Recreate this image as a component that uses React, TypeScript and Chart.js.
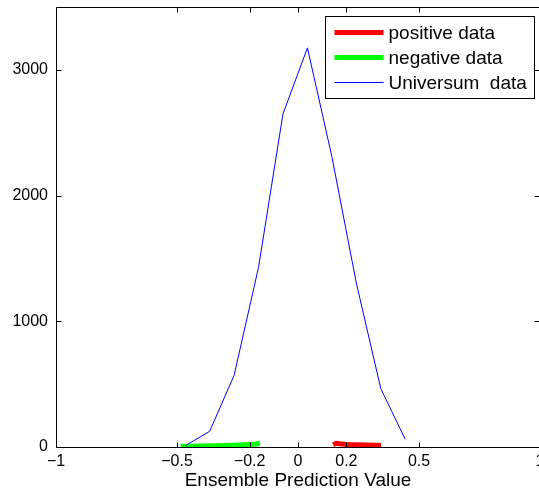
import { useEffect, useRef } from 'react';
import { Chart, registerables } from 'chart.js';

Chart.register(...registerables);

// Universum data (histogram polyline)
const universumX = [-0.466, -0.365, -0.264, -0.163, -0.062, 0.039, 0.14, 0.241, 0.342, 0.443];
const universumY = [10, 125, 570, 1430, 2650, 3175, 2310, 1305, 465, 62];

// negative data
const negativeX = [-0.485, -0.44, -0.4, -0.35, -0.3, -0.25, -0.2, -0.175, -0.158];
const negativeY = [5, 6, 8, 10, 12, 15, 19, 24, 30];

// positive data
const positiveX = [0.145, 0.158, 0.172, 0.2, 0.24, 0.28, 0.32, 0.343];
const positiveY = [18, 30, 26, 20, 18, 16, 13, 12];

const xTickValues = [-1, -0.5, -0.2, 0, 0.2, 0.5, 1];
const yTickValues = [0, 1000, 2000, 3000];
const seriesLabels = ['positive data', 'negative data', 'Universum  data'];
const xTitle = 'Ensemble Prediction Value';

const FONT = "'Liberation Sans', Arial, Helvetica, sans-serif";

const toPoints = (xs: number[], ys: number[]) => xs.map((x, i) => ({ x, y: ys[i] }));

const fmt = (v: number) => (v < 0 ? '\u2212' + String(Math.abs(v)) : String(v));

const framePlugin = {
  id: 'frame',
  afterDatasetsDraw(chart: any) {
    const { ctx, chartArea: a, scales } = chart;
    const L = Math.round(a.left) + 0.5;
    const R = Math.round(a.right) - 0.5;
    const T = Math.round(a.top) + 0.5;
    const B = Math.round(a.bottom) + 0.5;
    ctx.save();
    ctx.strokeStyle = '#000';
    ctx.lineWidth = 1;
    ctx.beginPath();
    ctx.rect(L, T, R - L, B - T);
    ctx.stroke();
    const tl = 5;
    ctx.beginPath();
    xTickValues.forEach((v) => {
      const px = Math.round(scales.x.getPixelForValue(v)) + 0.5;
      ctx.moveTo(px, B);
      ctx.lineTo(px, B - tl);
      ctx.moveTo(px, T);
      ctx.lineTo(px, T + tl);
    });
    yTickValues.forEach((v) => {
      const py = Math.round(scales.y.getPixelForValue(v)) + 0.5;
      ctx.moveTo(L, py);
      ctx.lineTo(L + tl, py);
      ctx.moveTo(R, py);
      ctx.lineTo(R - tl, py);
    });
    ctx.stroke();
    ctx.restore();
  },
  afterDraw(chart: any) {
    const { ctx, chartArea: a } = chart;
    const boxL = Math.round(a.left + 269) + 0.5;
    const boxR = Math.round(a.left + 478) + 0.5;
    const boxT = Math.round(a.top + 9) + 0.5;
    const boxB = Math.round(a.top + 91) + 0.5;
    ctx.save();
    ctx.fillStyle = '#fff';
    ctx.fillRect(boxL, boxT, boxR - boxL, boxB - boxT);
    ctx.strokeStyle = '#000';
    ctx.lineWidth = 1;
    ctx.strokeRect(boxL, boxT, boxR - boxL, boxB - boxT);
    const order = [2, 1, 0];
    order.forEach((di, i) => {
      const ds = chart.data.datasets[di];
      const y = boxT + 16 + i * 25;
      ctx.beginPath();
      ctx.strokeStyle = ds.borderColor;
      ctx.lineWidth = ds.borderWidth;
      ctx.moveTo(boxL + 9, y);
      ctx.lineTo(boxL + 58, y);
      ctx.stroke();
      ctx.fillStyle = '#000';
      ctx.font = `19px ${FONT}`;
      ctx.textBaseline = 'middle';
      ctx.textAlign = 'left';
      ctx.fillText(ds.label, boxL + 63, y + 1);
    });
    ctx.restore();
  },
};

export default function App() {
  const ref = useRef<HTMLCanvasElement | null>(null);
  useEffect(() => {
    if (!ref.current) return;
    const chart = new Chart(ref.current, {
      type: 'line',
      data: {
        datasets: [
          {
            label: seriesLabels[2],
            data: toPoints(universumX, universumY),
            borderColor: '#0000ff',
            borderWidth: 1,
            pointRadius: 0,
            tension: 0,
            order: -1,
          },
          {
            label: seriesLabels[1],
            data: toPoints(negativeX, negativeY),
            borderColor: '#00ff00',
            borderWidth: 5,
            pointRadius: 0,
            tension: 0,
            order: 1,
          },
          {
            label: seriesLabels[0],
            data: toPoints(positiveX, positiveY),
            borderColor: '#ff0000',
            borderWidth: 5,
            pointRadius: 0,
            tension: 0,
            order: 1,
          },
        ],
      },
      options: {
        animation: false,
        responsive: false,
        devicePixelRatio: 1,
        layout: { padding: { top: 7, right: 2, left: 0, bottom: 0 } },
        plugins: { legend: { display: false }, tooltip: { enabled: false } },
        scales: {
          x: {
            type: 'linear',
            min: -1,
            max: 1,
            grid: { display: false, drawTicks: false },
            border: { display: false },
            afterBuildTicks: (s: any) => {
              s.ticks = xTickValues.map((value) => ({ value }));
            },
            afterFit: (s: any) => {
              s.height = 48;
              s.paddingLeft = 0;
              s.paddingRight = 0;
            },
            ticks: {
              autoSkip: false,
              maxRotation: 0,
              padding: 5,
              color: '#000',
              font: { family: FONT, size: 16 },
              callback: (v: any) => fmt(Number(v)),
            },
            title: {
              display: true,
              text: xTitle,
              color: '#000',
              font: { family: FONT, size: 19 },
              padding: { top: 0, bottom: 3 },
            },
          },
          y: {
            type: 'linear',
            min: 0,
            max: 3500,
            grid: { display: false, drawTicks: false },
            border: { display: false },
            afterBuildTicks: (s: any) => {
              s.ticks = yTickValues.map((value) => ({ value }));
            },
            afterFit: (s: any) => {
              s.width = 56;
              s.paddingTop = 0;
              s.paddingBottom = 0;
            },
            ticks: {
              padding: 8,
              color: '#000',
              font: { family: FONT, size: 16 },
              callback: (v: any) => fmt(Number(v)),
            },
          },
        },
      },
      plugins: [framePlugin],
    });
    return () => chart.destroy();
  }, []);
  return (
    <div style={{ position: 'fixed', left: 0, top: 0, width: 539, height: 495, overflow: 'hidden', background: '#fff' }}>
      <canvas ref={ref} width={542} height={495} style={{ display: 'block' }} />
    </div>
  );
}
